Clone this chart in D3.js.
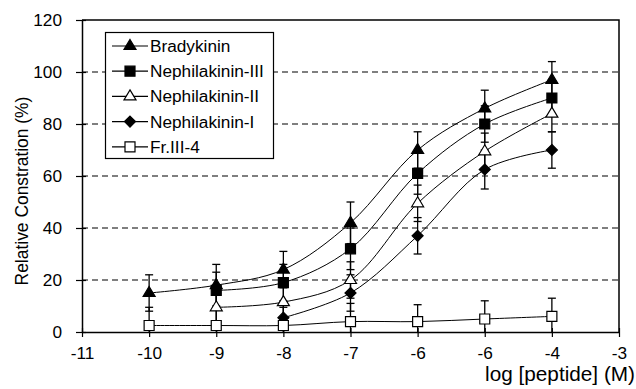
<!DOCTYPE html>
<html>
<head>
<meta charset="utf-8">
<script src="https://cdn.jsdelivr.net/npm/d3@7"></script>
<style>
  body { margin: 0; background: #fff; }
  svg { display: block; font-family: "Liberation Sans", Arial, sans-serif; }
</style>
</head>
<body>
<div id="container"></div>
<script>
// log concentrations (M) at which each peptide was tested
const doses = [-10, -9, -8, -7, -6, -5, -4];

// mean relative constriction (%) per series, null = not measured
const bradykinin   = [15, 18, 24, 42, 70, 86, 97];
const nephilaIII   = [null, 16, 19, 32, 61, 80, 90];
const nephilaII    = [null, 9.5, 11.5, 20, 49.5, 69.5, 84];
const nephilaI     = [null, null, 5.5, 15, 37, 62.5, 70];
const frIII4       = [2.5, 2.5, 2.5, 4, 4, 5, 6];

// error bar half-lengths (%)
const bradykininErr = [7, 8, 7, 8, 7, 7, 7];
const nephilaIIIErr = [null, 7, 7, 8, 8, 7, 7];
const nephilaIIErr  = [null, 6, 6, 7, 7, 7, 7];
const nephilaIErr   = [null, null, 6, 7, 7, 7.5, 7];
const frIII4Err     = [7, 7, 7, 7, 6.5, 7, 7];

const seriesNames = ["Bradykinin", "Nephilakinin-III", "Nephilakinin-II", "Nephilakinin-I", "Fr.III-4"];

// axis ticks (labels as printed in the original figure)
const xTicks = [-11, -10, -9, -8, -7, -6, -5, -4, -3];
const xTickLabels = ["-11", "-10", "-9", "-8", "-7", "-6", "-6", "-4", "-3"];
const yTicks = [0, 20, 40, 60, 80, 100, 120];
const gridTicks = [20, 40, 60, 80, 100];

const series = [
  { name: seriesNames[0], values: bradykinin, err: bradykininErr, shape: "triangle", fill: "#000" },
  { name: seriesNames[1], values: nephilaIII, err: nephilaIIIErr, shape: "square", fill: "#000" },
  { name: seriesNames[2], values: nephilaII, err: nephilaIIErr, shape: "triangle", fill: "#fff" },
  { name: seriesNames[3], values: nephilaI, err: nephilaIErr, shape: "diamond", fill: "#000" },
  { name: seriesNames[4], values: frIII4, err: frIII4Err, shape: "square", fill: "#fff" }
];

const width = 636, height = 389;
const plot = { left: 82, right: 619, top: 20, bottom: 332 };

const x = d3.scaleLinear().domain([-11, -3]).range([plot.left, plot.right]);
const y = d3.scaleLinear().domain([0, 120]).range([plot.bottom, plot.top]);

const svg = d3.select('#container').append('svg')
  .attr('width', width)
  .attr('height', height);

// font size that makes a string span a given width
function fitSize(str, target) {
  const t = svg.append("text").attr("font-size", 100).text(str);
  const w = t.node().getComputedTextLength();
  t.remove();
  return 100 * target / w;
}
const labelSize = fitSize("Nephilakinin-III", 114);
const tickSize = Math.min(labelSize, fitSize("120", 29));

svg.append("defs").append("clipPath").attr("id", "clip")
  .append("rect")
  .attr("x", plot.left).attr("y", plot.top)
  .attr("width", plot.right - plot.left).attr("height", plot.bottom - plot.top);

// dashed gridlines
svg.append("g")
  .selectAll("line")
  .data(gridTicks)
  .enter().append("line")
    .attr("x1", plot.left).attr("x2", plot.right)
    .attr("y1", d => y(d)).attr("y2", d => y(d))
    .attr("stroke", "#000")
    .attr("stroke-width", 1.2)
    .attr("stroke-dasharray", "6,4");

// plot frame: top and right
svg.append("path")
  .attr("d", `M${plot.left},${plot.top}H${plot.right}V${plot.bottom}`)
  .attr("fill", "none")
  .attr("stroke", "#000")
  .attr("stroke-width", 1.5);

// axes
const xAxis = svg.append("g")
  .attr("transform", `translate(0,${plot.bottom})`)
  .call(d3.axisBottom(x).tickValues(xTicks).tickFormat((d, i) => xTickLabels[i]).tickSizeOuter(0).tickPadding(9));
xAxis.selectAll(".tick line").attr("y1", -4).attr("y2", 5);

const yAxis = svg.append("g")
  .attr("transform", `translate(${plot.left},0)`)
  .call(d3.axisLeft(y).tickValues(yTicks).tickSizeOuter(0).tickPadding(14));
yAxis.selectAll(".tick line").attr("x1", -6).attr("x2", 4);

[xAxis, yAxis].forEach(a => {
  a.select(".domain").attr("stroke-width", 1.5);
  a.selectAll(".tick line").attr("stroke-width", 1.2);
  a.selectAll("text").attr("font-size", tickSize).attr("fill", "#000")
    .style("font-family", '"Liberation Sans", Arial, sans-serif');
});

svg.append("text")
  .attr("transform", "translate(28,191) rotate(-90)")
  .attr("text-anchor", "middle")
  .attr("font-size", fitSize("Relative Constration (%)", 189))
  .text("Relative Constration (%)");

svg.append("text")
  .attr("x", 635).attr("y", 381)
  .attr("text-anchor", "end")
  .attr("font-size", Math.min(21, fitSize("log [peptide] (M)", 150)))
  .text("log [peptide] (M)");

function markerPath(shape) {
  if (shape === "triangle") return "M0,-6.5L6,3.5L-6,3.5Z";
  if (shape === "square") return "M-5,-5H5V5H-5Z";
  return "M0,-5.5L5.5,0L0,5.5L-5.5,0Z";
}

const dataArea = svg.append("g").attr("clip-path", "url(#clip)");

const line = d3.line()
  .defined(d => d.v != null)
  .x(d => x(d.dose))
  .y(d => y(d.v))
  .curve(d3.curveCatmullRom.alpha(0.5));

series.forEach(s => {
  const pts = doses.map((dose, i) => ({ dose, v: s.values[i], e: s.err[i] }));
  const valid = pts.filter(d => d.v != null);
  dataArea.append("path")
    .datum(valid)
    .attr("d", line)
    .attr("fill", "none")
    .attr("stroke", "#000")
    .attr("stroke-width", 1);

  const eb = dataArea.append("g").attr("stroke", "#000").attr("stroke-width", 1.3);
  valid.forEach(d => {
    const cx = x(d.dose);
    eb.append("line").attr("x1", cx).attr("x2", cx).attr("y1", y(d.v - d.e)).attr("y2", y(d.v + d.e));
    eb.append("line").attr("x1", cx - 4).attr("x2", cx + 4).attr("y1", y(d.v + d.e)).attr("y2", y(d.v + d.e));
    eb.append("line").attr("x1", cx - 4).attr("x2", cx + 4).attr("y1", y(d.v - d.e)).attr("y2", y(d.v - d.e));
  });
  s.valid = valid;
});

series.forEach(s => {
  svg.append("g")
    .selectAll("path")
    .data(s.valid)
    .enter().append("path")
      .attr("transform", d => `translate(${x(d.dose)},${y(d.v)})`)
      .attr("d", markerPath(s.shape))
      .attr("fill", s.fill)
      .attr("stroke", "#000")
      .attr("stroke-width", 1.2);
});

// legend
const legend = svg.append("g");
legend.append("rect")
  .attr("x", 105.5).attr("y", 32.5)
  .attr("width", 168).attr("height", 126)
  .attr("fill", "#fff")
  .attr("stroke", "#000")
  .attr("stroke-width", 1.2);

series.forEach((s, i) => {
  const ly = 46 + i * 25.2;
  legend.append("line")
    .attr("x1", 112).attr("x2", 148)
    .attr("y1", ly).attr("y2", ly)
    .attr("stroke", "#000").attr("stroke-width", 1.2);
  legend.append("path")
    .attr("transform", `translate(130,${ly})`)
    .attr("d", markerPath(s.shape))
    .attr("fill", s.fill)
    .attr("stroke", "#000")
    .attr("stroke-width", 1.2);
  legend.append("text")
    .attr("x", 150).attr("y", ly + 6)
    .attr("font-size", labelSize)
    .text(s.name);
});
</script>
</body>
</html>
